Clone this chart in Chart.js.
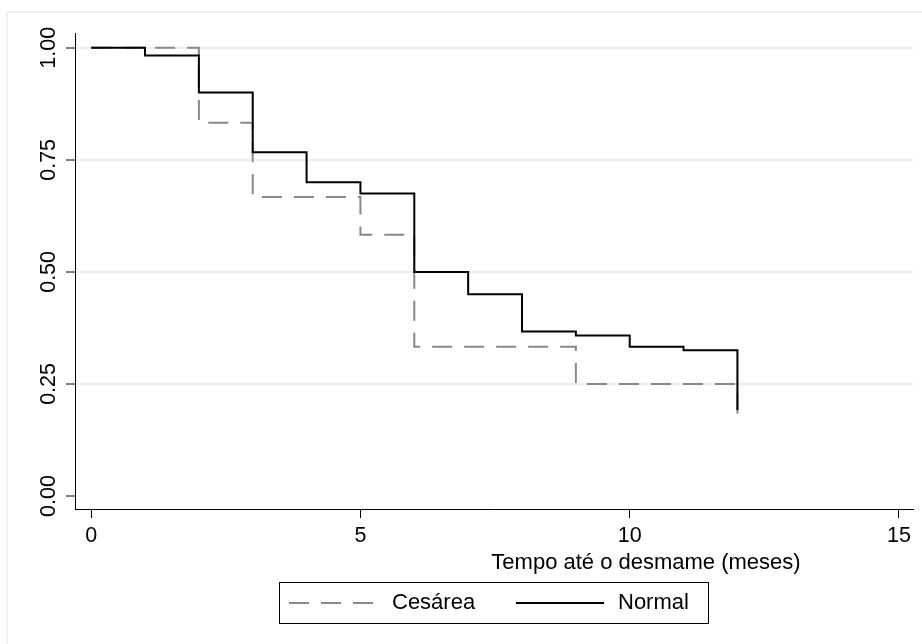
<!DOCTYPE html>
<html>
<head>
<meta charset="utf-8">
<script src="https://cdn.jsdelivr.net/npm/chart.js@4.4.1/dist/chart.umd.min.js"></script>
<style>
  html, body { margin: 0; padding: 0; background: #fff; }
  #wrap { width: 922px; height: 644px; position: relative; }
</style>
</head>
<body>
<div id="wrap"><canvas id="kmChart" width="922" height="644"></canvas></div>
<script>
// tempo (meses) e sobrevida estimada
const normalTimes = [0, 1, 2, 3, 4, 5, 6, 7, 8, 9, 10, 11, 12];
const normalSurv = [1, 0.983, 0.9, 0.767, 0.7, 0.675, 0.5, 0.45, 0.367, 0.358, 0.333, 0.325, 0.192];
const cesareaTimes = [0, 2, 3, 5, 6, 9, 12];
const cesareaSurv = [1, 0.833, 0.667, 0.583, 0.333, 0.25, 0.167];
const xTicks = [0, 5, 10, 15];
const yTicks = [0, 0.25, 0.5, 0.75, 1];
const legendLabels = ['Cesárea', 'Normal'];
const xTitle = 'Tempo até o desmame (meses)';

const FONT = '"Liberation Sans", Arial, Helvetica, sans-serif';

const toPoints = (xs, ys) => xs.map((x, i) => ({ x: x, y: ys[i] }));

const decorPlugin = {
  id: 'decor',
  beforeDraw(chart) {
    const ctx = chart.ctx;
    ctx.save();
    ctx.fillStyle = '#fff';
    ctx.fillRect(0, 0, chart.width, chart.height);
    // moldura clara
    ctx.strokeStyle = '#e4ecef';
    ctx.lineWidth = 1.5;
    ctx.beginPath();
    ctx.moveTo(7, chart.height);
    ctx.lineTo(7, 12);
    ctx.lineTo(chart.width, 12);
    ctx.stroke();
    ctx.restore();
  },
  afterDraw(chart) {
    const ctx = chart.ctx;
    const yScale = chart.scales.y;
    ctx.save();
    ctx.fillStyle = '#000';
    // rótulos do eixo y, na vertical
    ctx.font = '21.5px ' + FONT;
    ctx.textAlign = 'center';
    ctx.textBaseline = 'middle';
    yTicks.forEach(v => {
      const py = yScale.getPixelForValue(v);
      ctx.save();
      ctx.translate(49, py);
      ctx.rotate(-Math.PI / 2);
      ctx.fillText(v.toFixed(2), 0, 0);
      ctx.restore();
    });
    // título do eixo x
    ctx.font = '22px ' + FONT;
    ctx.fillText(xTitle, 646, 563);
    // legenda
    ctx.strokeStyle = '#000';
    ctx.lineWidth = 1;
    ctx.strokeRect(279.5, 582.5, 429, 41);
    ctx.lineWidth = 2;
    ctx.strokeStyle = '#888';
    ctx.setLineDash([20, 12]);
    ctx.beginPath(); ctx.moveTo(289, 603); ctx.lineTo(378, 603); ctx.stroke();
    ctx.setLineDash([]);
    ctx.strokeStyle = '#000';
    ctx.beginPath(); ctx.moveTo(516, 603); ctx.lineTo(604, 603); ctx.stroke();
    ctx.textAlign = 'left';
    ctx.fillText(legendLabels[0], 392, 603);
    ctx.fillText(legendLabels[1], 618, 603);
    ctx.restore();
  }
};

const ctx = document.getElementById('kmChart');
new Chart(ctx, {
  type: 'line',
  data: {
    datasets: [
      {
        label: legendLabels[1],
        data: toPoints(normalTimes, normalSurv),
        stepped: 'before',
        borderColor: '#000',
        borderWidth: 2,
        pointRadius: 0,
        fill: false,
        order: 0
      },
      {
        label: legendLabels[0],
        data: toPoints(cesareaTimes, cesareaSurv),
        stepped: 'before',
        borderColor: '#888',
        borderWidth: 2,
        borderDash: [20, 12],
        pointRadius: 0,
        fill: false,
        order: 1
      }
    ]
  },
  options: {
    responsive: false,
    animation: false,
    layout: { padding: { top: 33, right: 9, left: 0, bottom: 0 } },
    plugins: { legend: { display: false }, tooltip: { enabled: false } },
    scales: {
      x: {
        type: 'linear',
        min: -0.3,
        max: 15.26,
        afterBuildTicks: axis => { axis.ticks = xTicks.map(v => ({ value: v })); },
        afterFit: axis => { axis.height = 135; },
        grid: { drawOnChartArea: false, drawTicks: true, tickLength: 9, tickColor: '#000', tickWidth: 1 },
        border: { color: '#000', width: 1 },
        ticks: { color: '#000', font: { family: FONT, size: 21.5 }, padding: 5, maxRotation: 0 }
      },
      y: {
        type: 'linear',
        min: -0.029,
        max: 1.033,
        afterBuildTicks: axis => { axis.ticks = yTicks.map(v => ({ value: v })); },
        afterFit: axis => { axis.width = 75; },
        grid: {
          color: c => (c.tick && c.tick.value === 0 ? 'rgba(0,0,0,0)' : '#eaf0f2'),
          lineWidth: 2,
          drawTicks: true,
          tickLength: 9,
          tickColor: '#000',
          tickWidth: 1
        },
        border: { color: '#000', width: 1 },
        ticks: { callback: () => '', padding: 0 }
      }
    }
  },
  plugins: [decorPlugin]
});
</script>
</body>
</html>
